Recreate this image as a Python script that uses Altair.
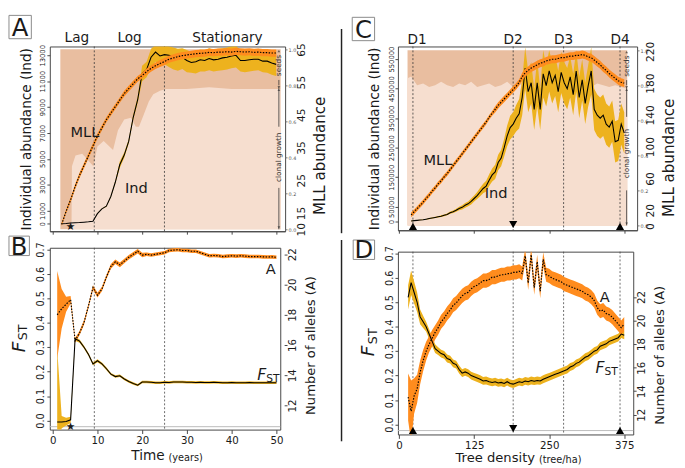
import altair as alt
import pandas as pd

FONT = "DejaVu Sans"
SALMON = "#E9BEA0"
HATCH = "#F6DECF"
GOLD = "#EDB21E"
ORANGE = "#FF8C1E"
INK = "#1a1a1a"

# ---------------- Panel A : abundance over time ----------------
years_A = list(range(2, 51))
ind_A = [0, 20, 50, 70, 90, 120, 150, 190, 780, 1150, 1350, 2100, 3200, 4550, 5300, 6350, 8200, 9550,
         11600, 11900, 12850, 13250, 12950, 13050, 13000, 12900, 12750, 12850, 12600, 12450, 12500, 12650,
         12600, 12750, 12650, 12700, 12800, 12850, 12950, 13000, 12600, 12600, 12650, 12700, 12700, 12550,
         12550, 12400, 12300]
ind_A_lo = [0, 20, 50, 70, 90, 120, 150, 190, 760, 1130, 1320, 2050, 3100, 4300, 5100, 6200, 8000, 9300,
            11000, 11300, 12000, 12500, 12300, 12300, 12100, 11900, 11800, 11950, 11700, 11650, 11600, 11750,
            11750, 11850, 11750, 11800, 11850, 11900, 12000, 12050, 11750, 11700, 11750, 11800, 11850, 11700,
            11650, 11500, 11400]
ind_A_hi = [0, 20, 50, 70, 90, 120, 150, 190, 800, 1170, 1380, 2150, 3300, 4800, 5500, 6500, 8400, 9800,
            12200, 12500, 13500, 13800, 13800, 13800, 13700, 13600, 13500, 13550, 13400, 13250, 13300, 13450,
            13400, 13550, 13450, 13500, 13550, 13600, 13700, 13750, 13350, 13350, 13400, 13450, 13500, 13350,
            13400, 13300, 13200]
mll_A = [11.5, 15.5, 19, 23, 26.5, 29.5, 32.5, 35.5, 38.5, 41, 43.5, 45.5, 47.5, 49.5, 51.5, 53, 54.5, 56,
         57, 58.2, 59.2, 60, 60.7, 61.3, 62, 62.4, 62.8, 63.1, 63.3, 63.5, 63.7, 63.8, 63.9, 64.1, 64.0, 64.2,
         64.2, 64.3, 64.2, 64.4, 64.3, 64.2, 64.3, 64.1, 64.2, 64.0, 64.0, 63.9, 63.9]
mll_A_err = [0.5, 0.6, 0.7, 0.8, 0.8, 0.8, 0.8, 0.8, 0.8, 0.8, 0.8, 0.8, 0.8, 0.8, 0.9, 0.9, 0.9, 0.9, 0.9,
             1.0, 1.0, 1.0, 1.1, 1.1, 1.1, 1.1, 1.1, 1.1, 1.1, 1.1, 1.1, 1.1, 1.1, 1.1, 1.1, 1.1, 1.1, 1.1,
             1.1, 1.1, 1.1, 1.1, 1.1, 1.1, 1.1, 1.1, 1.1, 1.1, 1.1]
bg_A_t = [1.7, 4.2, 4.3, 5.1, 6.6, 9.1, 10.0, 11.4, 13.5, 14.6, 16.0, 17.5, 18.6, 19.3, 20.4, 21.5, 22.5,
          24.0, 25.4, 30, 35, 40, 45, 51]
bg_A_clonal = [0, 0, 0.35, 0.41, 0.42, 0.35, 0.46, 0.49, 0.44, 0.55, 0.61, 0.62, 0.57, 0.57, 0.64, 0.71,
               0.75, 0.77, 0.78, 0.78, 0.79, 0.78, 0.78, 0.78]
phase_t = [5.4, 17.2, 39.1]
phase_lbl = ["Lag", "Log", "Stationary"]
phase_lines = [9.3, 25.0]
frac_ticks = [0.0, 0.2, 0.4, 0.6, 0.8, 1.0]

# ---------------- Panel B : Fst and alleles over time ----------------
years_B = list(range(1, 51))
fst_B = [-0.006, -0.006, -0.004, 0.003, 0.335, 0.325, 0.30, 0.27, 0.232, 0.245,
         0.232, 0.212, 0.19, 0.18, 0.183, 0.17, 0.16, 0.152, 0.145, 0.158,
         0.158, 0.157, 0.155, 0.155, 0.157, 0.156, 0.158, 0.158, 0.158, 0.157,
         0.157, 0.156, 0.157, 0.156, 0.156, 0.157, 0.156, 0.155, 0.155, 0.156,
         0.155, 0.155, 0.155, 0.156, 0.155, 0.155, 0.155, 0.155, 0.155, 0.155]
fst_B_err = [0.3, 0.025, 0.016, 0.013, 0.008, 0.007, 0.006, 0.006, 0.006, 0.006,
             0.006, 0.006, 0.005, 0.005, 0.005, 0.005, 0.005, 0.005, 0.005, 0.005,
             0.005, 0.005, 0.005, 0.005, 0.005, 0.005, 0.005, 0.005, 0.005, 0.005,
             0.005, 0.005, 0.005, 0.005, 0.005, 0.005, 0.005, 0.005, 0.005, 0.005,
             0.005, 0.005, 0.005, 0.005, 0.005, 0.005, 0.005, 0.005, 0.005, 0.005]
all_B = [18.0, 18.4, 18.7, 19.0, 16.3, 16.8, 17.5, 18.6, 19.8, 19.3,
         19.7, 20.5, 21.2, 21.5, 21.3, 21.55, 21.8, 22.0, 22.2, 21.95,
         22.0, 21.95, 22.0, 22.05, 22.1, 22.25, 22.28, 22.3, 22.25, 22.25,
         22.2, 22.2, 22.1, 22.0, 21.9, 21.92, 21.9, 21.85, 21.88, 21.9,
         21.88, 21.9, 21.88, 21.85, 21.85, 21.85, 21.83, 21.82, 21.83, 21.8]
all_B_err = [2.9, 1.3, 0.5, 0.25, 0.15, 0.15, 0.15, 0.15, 0.15, 0.15,
             0.15, 0.15, 0.15, 0.15, 0.15, 0.15, 0.15, 0.15, 0.15, 0.15,
             0.12, 0.12, 0.12, 0.12, 0.12, 0.12, 0.12, 0.12, 0.12, 0.12,
             0.12, 0.12, 0.12, 0.12, 0.12, 0.12, 0.12, 0.12, 0.12, 0.12,
             0.12, 0.12, 0.12, 0.12, 0.12, 0.12, 0.12, 0.12, 0.12, 0.12]

# ---------------- Panel C : abundance over tree density ----------------
dens_C = list(range(20, 380, 5))
mll_C = [14, 18, 22, 26, 30, 35, 39, 44, 48, 53, 57, 62, 66, 71, 76, 81, 86, 91, 96, 101,
         106, 111, 116, 121, 126, 131, 137, 142, 147, 152, 156, 160, 164, 168, 172, 176, 181, 188, 193, 196,
         199, 201, 203, 205, 206, 208, 209, 210, 210, 211, 212, 212, 213, 214, 214, 215, 215, 216, 215, 213,
         212, 209, 206, 203, 199, 196, 192, 189, 186, 183, 181, 180]
mll_C_err = [3, 3, 3, 3, 3, 3, 3, 3, 3, 3, 3, 3, 3, 3, 3, 3, 3, 3, 3, 3,
             3, 3, 3, 3, 3, 3, 3, 3, 4, 4, 4, 4, 4, 4, 4, 4, 4, 5, 5, 5,
             5, 5, 5, 5, 5, 5, 5, 5, 5, 5, 5, 5, 5, 5, 5, 5, 5, 5, 5, 5,
             5, 5, 5, 5, 5, 5, 5, 5, 5, 5, 5, 5]
ind_C_k = [2, 3, 4, 5, 6, 8, 10, 12, 14, 16, 18, 21, 24, 30, 33, 38, 44, 48, 55, 60,
           68, 78, 88, 100, 112, 120, 140, 158, 168, 200, 215, 250, 290, 318, 330, 350, 365, 420, 520, 440,
           470, 380, 470, 380, 500, 460, 510, 470, 495, 440, 505, 470, 450, 490, 430, 510, 420, 480, 400, 460,
           510, 380, 360, 350, 360, 330, 320, 340, 270, 275, 330, 300]
ind_C_err = [1, 1, 1, 1, 1, 1, 2, 2, 2, 2, 3, 3, 3, 4, 4, 5, 6, 7, 8, 8,
             10, 10, 12, 14, 16, 18, 20, 22, 24, 26, 28, 30, 35, 40, 40, 45, 50, 60, 70, 70,
             70, 70, 80, 70, 80, 70, 70, 70, 70, 70, 70, 70, 70, 70, 70, 70, 70, 70, 70, 70,
             80, 70, 70, 70, 70, 70, 70, 70, 70, 70, 70, 70]
bg_C_d = [14, 20, 30, 40, 50, 60, 70, 80, 90, 100, 110, 120, 130, 140, 150, 160, 170, 180, 190, 200,
          210, 220, 230, 240, 250, 260, 270, 280, 290, 300, 310, 320, 330, 340, 350, 360, 370, 380]
bg_C_clonal = [0.84, 0.85, 0.80, 0.81, 0.79, 0.80, 0.82, 0.80, 0.79, 0.81, 0.80, 0.82, 0.79, 0.80, 0.81,
               0.79, 0.80, 0.82, 0.79, 0.80, 0.81, 0.80, 0.79, 0.80, 0.82, 0.81, 0.80, 0.79, 0.80, 0.81,
               0.80, 0.79, 0.81, 0.80, 0.79, 0.80, 0.79, 0.78]
dens_marks = [23, 190, 274, 368]
dens_lbl_x = [30, 190, 274, 368]
dens_labels = ["D1", "D2", "D3", "D4"]

# ---------------- Panel D : Fst and alleles over tree density ----------------
dens_D = list(range(15, 380, 5))
fst_D = [0.52, 0.58, 0.54, 0.50, 0.44, 0.42, 0.40, 0.37, 0.34, 0.31,
         0.30, 0.29, 0.285, 0.27, 0.265, 0.25, 0.245, 0.225, 0.21, 0.215,
         0.21, 0.20, 0.195, 0.19, 0.185, 0.178, 0.18, 0.175, 0.172, 0.175,
         0.17, 0.172, 0.168, 0.175, 0.168, 0.165, 0.17, 0.175, 0.172, 0.178,
         0.175, 0.18, 0.177, 0.18, 0.178, 0.185, 0.19, 0.195, 0.20, 0.205,
         0.21, 0.215, 0.22, 0.225, 0.235, 0.24, 0.25, 0.255, 0.265, 0.275,
         0.28, 0.29, 0.30, 0.305, 0.32, 0.325, 0.33, 0.34, 0.345, 0.35,
         0.355, 0.37, 0.365]
fst_D_err = [0.05, 0.05, 0.045, 0.04, 0.03, 0.025, 0.02, 0.02, 0.02, 0.018,
             0.016, 0.016, 0.016, 0.016, 0.016, 0.016, 0.016, 0.016, 0.016, 0.016,
             0.016, 0.016, 0.016, 0.016, 0.016, 0.016, 0.016, 0.016, 0.016, 0.016,
             0.016, 0.016, 0.016, 0.016, 0.016, 0.016, 0.016, 0.016, 0.016, 0.016,
             0.016, 0.016, 0.016, 0.016, 0.016, 0.016, 0.016, 0.016, 0.016, 0.016,
             0.016, 0.016, 0.016, 0.016, 0.016, 0.016, 0.016, 0.016, 0.016, 0.016,
             0.016, 0.016, 0.016, 0.016, 0.016, 0.016, 0.016, 0.016, 0.016, 0.016,
             0.016, 0.016, 0.016]
all_D = [13.5, 12.3, 13.6, 14.2, 15.6, 16.6, 17.4, 18.0, 18.5, 19.0,
         19.4, 19.9, 20.2, 20.6, 20.9, 21.3, 21.5, 21.8, 22.1, 22.3,
         22.4, 22.7, 22.9, 23.0, 23.2, 23.4, 23.4, 23.5, 23.7, 23.7,
         23.8, 23.9, 23.9, 24.0, 24.0, 24.1, 24.1, 24.2, 24.0, 25.5,
         23.2, 25.6, 22.8, 25.0, 22.5, 25.2, 23.9, 23.8, 23.6, 23.5,
         23.4, 23.3, 23.1, 23.0, 22.9, 22.8, 22.7, 22.6, 22.5, 22.3,
         22.2, 22.0, 21.7, 21.1, 20.8, 20.9, 20.6, 20.5, 20.3, 20.0,
         19.7, 19.4, 19.7]
all_D_err = [2.0, 2.6, 1.5, 1.2, 1.0, 0.9, 0.8, 0.7, 0.7, 0.6,
             0.6, 0.6, 0.6, 0.6, 0.6, 0.6, 0.6, 0.6, 0.6, 0.6,
             0.6, 0.6, 0.6, 0.6, 0.6, 0.6, 0.6, 0.6, 0.6, 0.6,
             0.6, 0.6, 0.6, 0.6, 0.6, 0.6, 0.6, 0.6, 0.6, 0.6,
             0.6, 0.6, 0.6, 0.6, 0.6, 0.6, 0.6, 0.6, 0.6, 0.6,
             0.6, 0.6, 0.6, 0.6, 0.6, 0.6, 0.6, 0.6, 0.6, 0.6,
             0.6, 0.6, 0.6, 0.6, 0.6, 0.6, 0.6, 0.6, 0.6, 0.6,
             0.6, 0.6, 0.6]


def sc(dom):
    return alt.Scale(domain=dom, nice=False, zero=False)


def one_row():
    return pd.DataFrame({"k": [0]})


def frac_axis():
    return alt.Axis(orient="right", values=frac_ticks, format=".1f", labelFontSize=5, labelColor="#555",
                    tickSize=2, tickColor="#777", labelPadding=1, domain=False, grid=False, title=None,
                    labelAngle=0, labelAlign="left", labelBaseline="middle", labelOverlap=False)


def left_axis(values, title, size, label_expr=None, fmt=None, title_pad=6):
    kw = dict(orient="left", values=values, labelAngle=270, labelAlign="center", labelBaseline="bottom",
              labelFontSize=size, tickSize=3, labelPadding=1, grid=False, domain=False, labelOverlap=False,
              titleFontSize=14, titlePadding=title_pad, titleFontWeight="normal")
    kw["title"] = title
    if label_expr is not None:
        kw["labelExpr"] = label_expr
    if fmt is not None:
        kw["format"] = fmt
    return alt.Axis(**kw)


def right_axis(values, title, size, offset, title_size, title_y, fmt=None, title_pad=6, tick=3):
    kw = dict(orient="right", values=values, labelAngle=270, labelAlign="center", labelBaseline="top",
              labelFontSize=size, tickSize=tick, labelPadding=1, grid=False, domain=False, labelOverlap=False,
              offset=offset, title=title, titleFontSize=title_size, titlePadding=title_pad, titleAngle=270,
              titleBaseline="top", titleFontWeight="normal", titleY=title_y)
    if fmt is not None:
        kw["format"] = fmt
    return alt.Axis(**kw)


def letter_box(letter, x0, y0, w, h):
    box = alt.Chart(one_row()).mark_rect(fill="white", stroke="#888", strokeWidth=1).encode(
        x=alt.value(x0), x2=alt.value(x0 + w), y=alt.value(y0), y2=alt.value(y0 + h))
    txt = alt.Chart(one_row()).mark_text(text=letter, fontSize=25, baseline="middle", align="center").encode(
        x=alt.value(x0 + w / 2), y=alt.value(y0 + h / 2 + 1))
    return [box, txt]


# ================= Panel A =================
WA, HA = 242, 190
XA_DOM = [-0.65, 52.0]
IND_A_DOM = [-580, 13680]
MLL_A_DOM = [9.4, 65.9]
FRAC_A_DOM = [-0.011, 1.016]

xA = alt.X("t:Q", scale=sc(XA_DOM), axis=alt.Axis(values=[0, 10, 20, 30, 40, 50], labels=False, ticks=True,
                                                   tickSize=3, domain=True, grid=False, title=None))
dfA = pd.DataFrame({"t": years_A, "ind": ind_A, "lo": ind_A_lo, "hi": ind_A_hi, "mll": mll_A, "err": mll_A_err})
bgA = pd.DataFrame({"t": bg_A_t, "clonal": bg_A_clonal})
bgA["one"] = 1.0
bgA["zero"] = 0.0

a_layers = [
    alt.Chart(bgA).mark_area(color=SALMON).encode(
        x=xA, y=alt.Y("one:Q", scale=sc(FRAC_A_DOM), axis=None), y2=alt.Y2("zero")),
    alt.Chart(bgA).mark_area(color=HATCH).encode(
        x=xA, y=alt.Y("clonal:Q", scale=sc(FRAC_A_DOM), axis=frac_axis()), y2=alt.Y2("zero")),
    alt.Chart(pd.DataFrame({"t": phase_lines})).mark_rule(color="#333", strokeDash=[2, 2], strokeWidth=0.8).encode(x=xA),
    alt.Chart(dfA).mark_area(color=GOLD, clip=True).encode(
        x=xA, y=alt.Y("lo:Q", scale=sc(IND_A_DOM),
                      axis=left_axis([0, 1000, 3000, 5000, 7000, 9000, 11000, 13000],
                                     "Individual abundance (Ind)", 7, fmt="d")),
        y2=alt.Y2("hi")),
    alt.Chart(dfA).mark_line(color="black", strokeWidth=1.1, clip=True).encode(
        x=xA, y=alt.Y("ind:Q", scale=sc(IND_A_DOM), axis=None)),
    alt.Chart(dfA).transform_calculate(mlo="datum.mll - datum.err", mhi="datum.mll + datum.err").mark_area(
        color=ORANGE, clip=True).encode(
        x=xA, y=alt.Y("mlo:Q", scale=sc(MLL_A_DOM),
                      axis=right_axis([10, 15, 25, 35, 45, 55, 65], "MLL abundance", 11, offset=10,
                                      title_size=15.5, title_y=112, tick=0)),
        y2=alt.Y2("mhi")),
    alt.Chart(dfA).mark_line(color="black", strokeWidth=1.2, strokeDash=[1.5, 1.5], clip=True).encode(
        x=xA, y=alt.Y("mll:Q", scale=sc(MLL_A_DOM), axis=None)),
    alt.Chart(pd.DataFrame({"t": [7.2], "v": [39.7], "lbl": ["MLL"]})).mark_text(fontSize=15).encode(
        x=xA, y=alt.Y("v:Q", scale=sc(MLL_A_DOM), axis=None), text="lbl:N"),
    alt.Chart(pd.DataFrame({"t": [18.7], "v": [2720], "lbl": ["Ind"]})).mark_text(fontSize=15).encode(
        x=xA, y=alt.Y("v:Q", scale=sc(IND_A_DOM), axis=None), text="lbl:N"),
    alt.Chart(pd.DataFrame({"t": phase_t, "lbl": phase_lbl})).mark_text(fontSize=14, baseline="middle").encode(
        x=xA, y=alt.value(-9), text="lbl:N"),
    alt.Chart(pd.DataFrame({"t": [4]})).mark_text(text="★", fontSize=11, baseline="middle").encode(
        x=xA, y=alt.value(HA - 4)),
    alt.Chart(pd.DataFrame({"t": [50.6, 50.6, 50.6], "f0": [0.0, 0.57, 0.8], "f1": [0.23, 0.79, 0.83]})).mark_rule(
        color="#333", strokeWidth=0.8).encode(
        x=xA, y=alt.Y("f0:Q", scale=sc(FRAC_A_DOM), axis=None), y2=alt.Y2("f1")),
    alt.Chart(pd.DataFrame({"t": [50.6, 50.6], "f": [0.01, 0.79]})).mark_point(
        shape="triangle-down", filled=True, size=8, color="#333").encode(
        x=xA, y=alt.Y("f:Q", scale=sc(FRAC_A_DOM), axis=None)),
    alt.Chart(pd.DataFrame({"t": [50.6, 50.6], "f": [0.775, 0.99]})).mark_point(
        shape="triangle-up", filled=True, size=8, color="#333").encode(
        x=xA, y=alt.Y("f:Q", scale=sc(FRAC_A_DOM), axis=None)),
    alt.Chart(pd.DataFrame({"t": [50.6, 50.6], "f": [0.91, 0.40], "lbl": ["seeds", "clonal growth"]})).mark_text(
        angle=270, fontSize=7.5, baseline="middle", color="#333").encode(
        x=xA, y=alt.Y("f:Q", scale=sc(FRAC_A_DOM), axis=None), text="lbl:N"),
] + letter_box("A", -42, -32, 23, 24)

panelA = alt.layer(*a_layers).resolve_scale(y="independent").properties(width=WA, height=HA)

# ================= Panel B =================
WB, HB = 237, 187
XB_DOM = [-0.65, 50.85]
FST_B_DOM = [-0.037, 0.707]
ALL_B_DOM = [10.41, 22.43]
xB = alt.X("t:Q", scale=sc(XB_DOM), axis=alt.Axis(values=[0, 10, 20, 30, 40, 50], labelFontSize=10.5,
                                                   tickSize=4, domain=False, grid=False, title=None,
                                                   labelPadding=2, labelAngle=0))
dfB = pd.DataFrame({"t": years_B, "fst": fst_B, "fe": fst_B_err, "al": all_B, "ae": all_B_err})

b_layers = [
    alt.Chart(pd.DataFrame({"v": [-0.025]})).mark_rule(color="#bbb", strokeWidth=1).encode(
        y=alt.Y("v:Q", scale=sc(FST_B_DOM), axis=None)),
    alt.Chart(pd.DataFrame({"t": phase_lines})).mark_rule(color="#444", strokeDash=[2, 2], strokeWidth=0.8).encode(x=xB),
    alt.Chart(dfB).transform_calculate(lo="datum.fst - datum.fe", hi="datum.fst + datum.fe").mark_area(
        color=GOLD, clip=True).encode(
        x=xB, y=alt.Y("lo:Q", scale=sc(FST_B_DOM),
                      axis=left_axis([0, 0.1, 0.2, 0.3, 0.4, 0.5, 0.6, 0.7], None, 10, fmt=".1f")),
        y2=alt.Y2("hi")),
    alt.Chart(dfB).transform_calculate(lo="datum.al - datum.ae", hi="datum.al + datum.ae").mark_area(
        color=ORANGE, clip=True).encode(
        x=xB, y=alt.Y("lo:Q", scale=sc(ALL_B_DOM),
                      axis=right_axis([12, 14, 16, 18, 20, 22], "Number of alleles (A)", 10.5, offset=4,
                                      title_size=13.5, title_y=100, tick=3)),
        y2=alt.Y2("hi")),
    alt.Chart(dfB).mark_line(color="black", strokeWidth=1.1, clip=True).encode(
        x=xB, y=alt.Y("fst:Q", scale=sc(FST_B_DOM), axis=None)),
    alt.Chart(dfB).mark_line(color="black", strokeWidth=1.2, strokeDash=[1.5, 1.5], clip=True).encode(
        x=xB, y=alt.Y("al:Q", scale=sc(ALL_B_DOM), axis=None)),
    alt.Chart(pd.DataFrame({"t": [48.7], "v": [21.0], "lbl": ["A"]})).mark_text(fontSize=15).encode(
        x=xB, y=alt.Y("v:Q", scale=sc(ALL_B_DOM), axis=None), text="lbl:N"),
    alt.Chart(pd.DataFrame({"t": [46.7], "v": [0.185], "lbl": ["F"]})).mark_text(
        fontSize=16, fontStyle="italic").encode(
        x=xB, y=alt.Y("v:Q", scale=sc(FST_B_DOM), axis=None), text="lbl:N"),
    alt.Chart(pd.DataFrame({"t": [49.2], "v": [0.17], "lbl": ["ST"]})).mark_text(fontSize=11).encode(
        x=xB, y=alt.Y("v:Q", scale=sc(FST_B_DOM), axis=None), text="lbl:N"),
    alt.Chart(pd.DataFrame({"t": [4]})).mark_text(text="★", fontSize=11, baseline="middle").encode(
        x=xB, y=alt.value(HB - 3)),
    alt.Chart(one_row()).mark_text(text="F", fontSize=19, fontStyle="italic", angle=270, baseline="middle").encode(
        x=alt.value(-32), y=alt.value(102)),
    alt.Chart(one_row()).mark_text(text="ST", fontSize=13, angle=270, baseline="middle").encode(
        x=alt.value(-27), y=alt.value(87)),
    alt.Chart(one_row()).mark_text(text="Time", fontSize=14, baseline="middle", align="right").encode(
        x=alt.value(118), y=alt.value(HB + 27)),
    alt.Chart(one_row()).mark_text(text="(years)", fontSize=10, baseline="middle", align="left").encode(
        x=alt.value(122), y=alt.value(HB + 29)),
] + letter_box("B", -42, -12, 21, 20)

panelB = alt.layer(*b_layers).resolve_scale(y="independent").properties(width=WB, height=HB)

# ================= Panel C =================
WC, HC = 246, 189
XC_DOM = [-2, 396.5]
XD_DOM = [-2, 390]
IND_C_DOM = [-29.6, 592.8]
MLL_C_DOM = [-5.3, 226.1]
FRAC_C_DOM = [-0.028, 1.022]
xC = alt.X("d:Q", scale=sc(XC_DOM), axis=alt.Axis(values=[0, 125, 250, 375], labels=False, tickSize=3,
                                                   domain=True, grid=False, title=None))
dfC = pd.DataFrame({"d": dens_C, "mll": mll_C, "me": mll_C_err, "ind": ind_C_k, "ie": ind_C_err})
bgC = pd.DataFrame({"d": bg_C_d, "clonal": bg_C_clonal})
bgC["one"] = 1.0
bgC["zero"] = 0.0

c_layers = [
    alt.Chart(bgC).mark_area(color=SALMON).encode(
        x=xC, y=alt.Y("one:Q", scale=sc(FRAC_C_DOM), axis=None), y2=alt.Y2("zero")),
    alt.Chart(bgC).mark_area(color=HATCH).encode(
        x=xC, y=alt.Y("clonal:Q", scale=sc(FRAC_C_DOM), axis=frac_axis()), y2=alt.Y2("zero")),
    alt.Chart(pd.DataFrame({"d": dens_marks})).mark_rule(color="#333", strokeDash=[2, 2], strokeWidth=0.8).encode(x=xC),
    alt.Chart(dfC).transform_calculate(lo="datum.ind - datum.ie", hi="datum.ind + datum.ie").mark_area(
        color=GOLD, clip=True).encode(
        x=xC, y=alt.Y("lo:Q", scale=sc(IND_C_DOM),
                      axis=left_axis([0, 50, 150, 250, 350, 450, 550], "Individual abundance (Ind)", 7,
                                     label_expr="datum.value == 0 ? '0' : datum.value + '000'")),
        y2=alt.Y2("hi")),
    alt.Chart(dfC).mark_line(color="black", strokeWidth=1.1, clip=True).encode(
        x=xC, y=alt.Y("ind:Q", scale=sc(IND_C_DOM), axis=None)),
    alt.Chart(dfC).transform_calculate(lo="datum.mll - datum.me", hi="datum.mll + datum.me").mark_area(
        color=ORANGE, clip=True).encode(
        x=xC, y=alt.Y("lo:Q", scale=sc(MLL_C_DOM),
                      axis=right_axis([0, 20, 60, 100, 140, 180, 220], "MLL abundance", 11, offset=7,
                                      title_size=15.5, title_y=114, tick=0)),
        y2=alt.Y2("hi")),
    alt.Chart(dfC).mark_line(color="black", strokeWidth=1.2, strokeDash=[1.5, 1.5], clip=True).encode(
        x=xC, y=alt.Y("mll:Q", scale=sc(MLL_C_DOM), axis=None)),
    alt.Chart(pd.DataFrame({"d": [64.5], "v": [82.9], "lbl": ["MLL"]})).mark_text(fontSize=15).encode(
        x=xC, y=alt.Y("v:Q", scale=sc(MLL_C_DOM), axis=None), text="lbl:N"),
    alt.Chart(pd.DataFrame({"d": [161.6], "v": [97.8], "lbl": ["Ind"]})).mark_text(fontSize=15).encode(
        x=xC, y=alt.Y("v:Q", scale=sc(IND_C_DOM), axis=None), text="lbl:N"),
    alt.Chart(pd.DataFrame({"d": dens_lbl_x, "lbl": dens_labels})).mark_text(fontSize=14, baseline="middle").encode(
        x=xC, y=alt.value(-7), text="lbl:N"),
    alt.Chart(pd.DataFrame({"d": [dens_marks[0], dens_marks[3]]})).mark_point(
        shape="triangle-up", filled=True, size=70, color="black", opacity=1).encode(x=xC, y=alt.value(HC - 4)),
    alt.Chart(pd.DataFrame({"d": [dens_marks[1]]})).mark_point(
        shape="triangle-down", filled=True, size=70, color="black", opacity=1).encode(x=xC, y=alt.value(HC - 6)),
    alt.Chart(pd.DataFrame({"d": [379, 379, 379], "f0": [0.0, 0.62, 0.8], "f1": [0.2, 0.79, 0.83]})).mark_rule(
        color="#333", strokeWidth=0.8).encode(
        x=xC, y=alt.Y("f0:Q", scale=sc(FRAC_C_DOM), axis=None), y2=alt.Y2("f1")),
    alt.Chart(pd.DataFrame({"d": [379, 379], "f": [0.01, 0.79]})).mark_point(
        shape="triangle-down", filled=True, size=8, color="#333").encode(
        x=xC, y=alt.Y("f:Q", scale=sc(FRAC_C_DOM), axis=None)),
    alt.Chart(pd.DataFrame({"d": [379, 379], "f": [0.775, 0.99]})).mark_point(
        shape="triangle-up", filled=True, size=8, color="#333").encode(
        x=xC, y=alt.Y("f:Q", scale=sc(FRAC_C_DOM), axis=None)),
    alt.Chart(pd.DataFrame({"d": [379, 379], "f": [0.91, 0.41], "lbl": ["seeds", "clonal growth"]})).mark_text(
        angle=270, fontSize=7.5, baseline="middle", color="#333").encode(
        x=xC, y=alt.Y("f:Q", scale=sc(FRAC_C_DOM), axis=None), text="lbl:N"),
    alt.Chart(one_row()).mark_rule(color="#222", strokeWidth=1.5).encode(
        x=alt.value(-58), y=alt.value(-18), y2=alt.value(HC + 3)),
] + letter_box("C", -47, -30, 23, 24)

panelC = alt.layer(*c_layers).resolve_scale(y="independent").properties(width=WC, height=HC)

# ================= Panel D =================
WD, HD = 242, 188
FST_D_DOM = [-0.041, 0.707]
ALL_D_DOM = [10.32, 25.86]
xD = alt.X("d:Q", scale=sc(XD_DOM), axis=alt.Axis(values=[0, 125, 250, 375], labelFontSize=10.5, tickSize=4,
                                                   domain=False, grid=False, title=None, labelPadding=2,
                                                   labelAngle=0))
dfD = pd.DataFrame({"d": dens_D, "fst": fst_D, "fe": fst_D_err, "al": all_D, "ae": all_D_err})

d_layers = [
    alt.Chart(pd.DataFrame({"v": [-0.025]})).mark_rule(color="#bbb", strokeWidth=1).encode(
        y=alt.Y("v:Q", scale=sc(FST_D_DOM), axis=None)),
    alt.Chart(pd.DataFrame({"d": dens_marks})).mark_rule(color="#444", strokeDash=[2, 2], strokeWidth=0.8).encode(x=xD),
    alt.Chart(dfD).transform_calculate(lo="datum.fst - datum.fe", hi="datum.fst + datum.fe").mark_area(
        color=GOLD, clip=True).encode(
        x=xD, y=alt.Y("lo:Q", scale=sc(FST_D_DOM),
                      axis=left_axis([0, 0.1, 0.2, 0.3, 0.4, 0.5, 0.6, 0.7], None, 10, fmt=".1f")),
        y2=alt.Y2("hi")),
    alt.Chart(dfD).transform_calculate(lo="datum.al - datum.ae", hi="datum.al + datum.ae").mark_area(
        color=ORANGE, clip=True).encode(
        x=xD, y=alt.Y("lo:Q", scale=sc(ALL_D_DOM),
                      axis=right_axis([12, 14, 16, 18, 20, 22], "Number of alleles (A)", 10.5, offset=0,
                                      title_size=13.5, title_y=106, tick=3)),
        y2=alt.Y2("hi")),
    alt.Chart(dfD).mark_line(color="black", strokeWidth=1.1, clip=True).encode(
        x=xD, y=alt.Y("fst:Q", scale=sc(FST_D_DOM), axis=None)),
    alt.Chart(dfD).mark_line(color="black", strokeWidth=1.2, strokeDash=[1.5, 1.5], clip=True).encode(
        x=xD, y=alt.Y("al:Q", scale=sc(ALL_D_DOM), axis=None)),
    alt.Chart(pd.DataFrame({"d": [342.5], "v": [22.0], "lbl": ["A"]})).mark_text(fontSize=15).encode(
        x=xD, y=alt.Y("v:Q", scale=sc(ALL_D_DOM), axis=None), text="lbl:N"),
    alt.Chart(pd.DataFrame({"d": [334.4], "v": [0.23], "lbl": ["F"]})).mark_text(
        fontSize=16, fontStyle="italic").encode(
        x=xD, y=alt.Y("v:Q", scale=sc(FST_D_DOM), axis=None), text="lbl:N"),
    alt.Chart(pd.DataFrame({"d": [353.2], "v": [0.215], "lbl": ["ST"]})).mark_text(fontSize=11).encode(
        x=xD, y=alt.Y("v:Q", scale=sc(FST_D_DOM), axis=None), text="lbl:N"),
    alt.Chart(pd.DataFrame({"d": [dens_marks[0], dens_marks[3]]})).mark_point(
        shape="triangle-up", filled=True, size=70, color="black", opacity=1).encode(x=xD, y=alt.value(HD - 4)),
    alt.Chart(pd.DataFrame({"d": [dens_marks[1]]})).mark_point(
        shape="triangle-down", filled=True, size=70, color="black", opacity=1).encode(x=xD, y=alt.value(HD - 6)),
    alt.Chart(one_row()).mark_text(text="F", fontSize=19, fontStyle="italic", angle=270, baseline="middle").encode(
        x=alt.value(-31), y=alt.value(102)),
    alt.Chart(one_row()).mark_text(text="ST", fontSize=13, angle=270, baseline="middle").encode(
        x=alt.value(-26), y=alt.value(87)),
    alt.Chart(one_row()).mark_text(text="Tree density", fontSize=13.5, baseline="middle", align="right").encode(
        x=alt.value(141), y=alt.value(HD + 24)),
    alt.Chart(one_row()).mark_text(text="(tree/ha)", fontSize=10, baseline="middle", align="left").encode(
        x=alt.value(145), y=alt.value(HD + 26)),
    alt.Chart(one_row()).mark_rule(color="#222", strokeWidth=1.5).encode(
        x=alt.value(-58), y=alt.value(-12), y2=alt.value(195)),
] + letter_box("D", -46, -12, 22, 20)

panelD = alt.layer(*d_layers).resolve_scale(y="independent").properties(width=WD, height=HD)

chart = alt.hconcat(
    alt.vconcat(panelA, panelB, spacing=-3),
    alt.vconcat(panelC, panelD, spacing=3),
    spacing=12,
).properties(
    padding={"left": 0, "top": 0, "right": 0, "bottom": 0}
).configure_view(
    stroke="#444", strokeWidth=1
).configure_axis(
    labelFont=FONT, titleFont=FONT, labelColor=INK, titleColor=INK, tickColor="#444", domainColor="#444"
).configure_text(
    font=FONT, color=INK
)

chart.save("out.html", embed_options={"renderer": "svg", "actions": False})
